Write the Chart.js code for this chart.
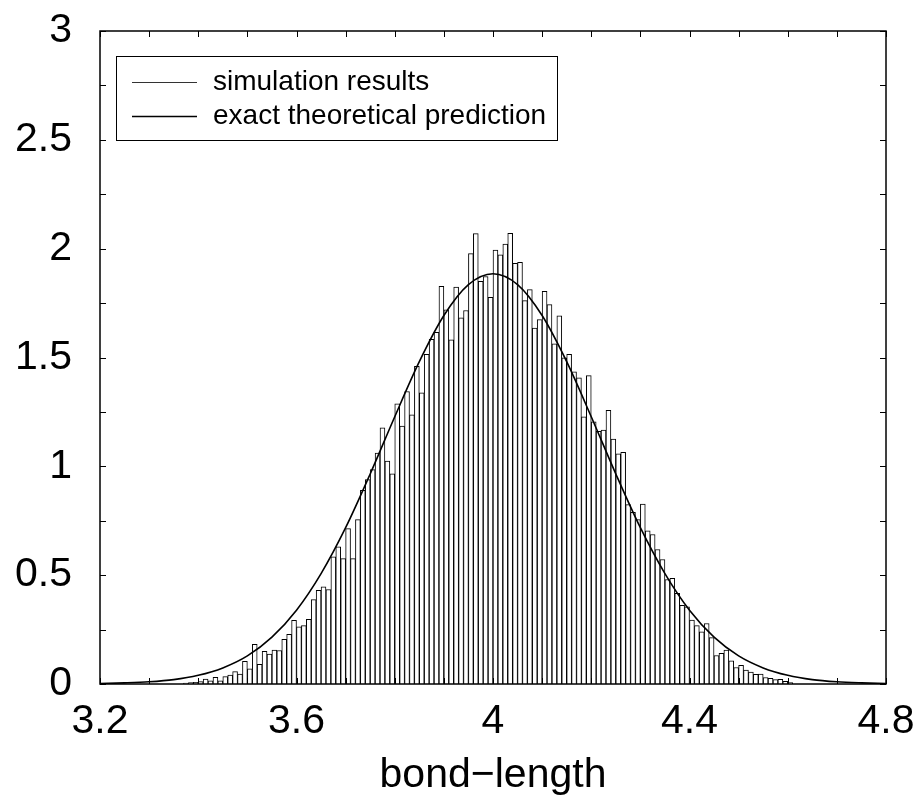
<!DOCTYPE html>
<html lang="en">
<head>
  <meta charset="UTF-8">
  <title>bond-length histogram</title>
  <style>
    body { margin: 0; background: #fff; }
    #box { width: 919px; height: 800px; }
  </style>
</head>
<body>
  <div id="box">
    <canvas id="grafico" width="919" height="800"></canvas>
  </div>

  <script src="https://cdn.jsdelivr.net/npm/chart.js"></script>

  <script>
    // histogram: bins of width 0.01 starting at 3.37
    const binStart = 3.37;
    const binWidth = 0.01;
    const counts = [
      0.004, 0.006, 0.008, 0.011, 0.023, 0.015, 0.031, 0.015, 0.034, 0.041,
      0.057, 0.046, 0.104, 0.070, 0.182, 0.090, 0.150, 0.138, 0.156, 0.154,
      0.205, 0.228, 0.292, 0.263, 0.268, 0.297, 0.388, 0.430, 0.446, 0.434,
      0.584, 0.630, 0.576, 0.714, 0.576, 0.755, 0.890, 0.939, 0.985, 1.061,
      1.177, 1.024, 0.966, 1.287, 1.185, 1.344, 1.237, 1.460, 1.338, 1.514,
      1.583, 1.616, 1.827, 1.719, 1.581, 1.823, 1.682, 1.716, 1.977, 2.069,
      1.850, 1.872, 1.777, 1.994, 1.972, 2.021, 2.070, 1.933, 1.937, 1.761,
      1.812, 1.635, 1.674, 1.804, 1.743, 1.563, 1.691, 1.499, 1.514, 1.434,
      1.407, 1.228, 1.417, 1.205, 1.161, 1.167, 1.257, 1.125, 1.057, 1.064,
      0.824, 0.789, 0.755, 0.827, 0.704, 0.687, 0.618, 0.572, 0.480, 0.485,
      0.416, 0.361, 0.355, 0.294, 0.268, 0.240, 0.278, 0.213, 0.131, 0.141,
      0.156, 0.106, 0.076, 0.086, 0.064, 0.055, 0.044, 0.046, 0.030, 0.026,
      0.020, 0.022, 0.012, 0.006
    ];

    // theoretical curve
    const curveX = [
      3.20, 3.25, 3.30, 3.35, 3.40, 3.45, 3.50, 3.55, 3.60, 3.65, 3.70,
      3.75, 3.80, 3.85, 3.90, 3.95, 4.00, 4.05, 4.10, 4.15, 4.20, 4.25,
      4.30, 4.35, 4.40, 4.45, 4.50, 4.55, 4.60, 4.65, 4.70, 4.75, 4.80
    ];
    const curveY = [
      0.002, 0.005, 0.010, 0.020, 0.040, 0.074, 0.129, 0.215, 0.339, 0.507, 0.718,
      0.965, 1.228, 1.481, 1.693, 1.835, 1.885, 1.835, 1.693, 1.481, 1.228, 0.965,
      0.718, 0.507, 0.339, 0.215, 0.129, 0.074, 0.040, 0.020, 0.010, 0.005, 0.002
    ];

    const labels = ["simulation results", "exact theoretical prediction"];
    const xTitle = "bond\u2212length";

    const fuente = "'Liberation Sans', Arial, sans-serif";

    const barras = counts.map((c, i) => ({ x: binStart + (i + 0.5) * binWidth, y: c }));
    const curva = curveX.map((v, i) => ({ x: v, y: curveY[i] }));

    // frame with inward ticks + boxed legend
    const marco = {
      id: "marco",
      afterDraw(chart) {
        const { ctx, chartArea: a, scales } = chart;
        const sx = scales.x, sy = scales.y;
        ctx.save();
        ctx.strokeStyle = "#000";
        ctx.lineWidth = 1;
        ctx.beginPath();
        sx.ticks.forEach(t => {
          const px = Math.round(sx.getPixelForValue(t.value)) + 0.5;
          ctx.moveTo(px, a.bottom); ctx.lineTo(px, a.bottom - 6);
          ctx.moveTo(px, a.top); ctx.lineTo(px, a.top + 6);
        });
        sy.ticks.forEach(t => {
          const py = Math.round(sy.getPixelForValue(t.value)) + 0.5;
          ctx.moveTo(a.left, py); ctx.lineTo(a.left + 6, py);
          ctx.moveTo(a.right, py); ctx.lineTo(a.right - 6, py);
        });
        ctx.stroke();
        ctx.lineWidth = 1.5;
        ctx.strokeRect(a.left, a.top, a.right - a.left, a.bottom - a.top);

        // legend box
        const lx = a.left + 16, ly = a.top + 25;
        ctx.fillStyle = "#fff";
        ctx.fillRect(lx, ly, 441, 84);
        ctx.lineWidth = 1;
        ctx.strokeRect(lx + 0.5, ly + 0.5, 441, 84);
        ctx.font = "28px " + fuente;
        ctx.textBaseline = "middle";
        ctx.fillStyle = "#000";
        labels.forEach((txt, i) => {
          const yy = ly + 26 + i * 34;
          ctx.beginPath();
          ctx.strokeStyle = i === 0 ? "#333" : "#000";
          ctx.lineWidth = i === 0 ? 1 : 1.3;
          ctx.moveTo(lx + 16, yy + 0.5);
          ctx.lineTo(lx + 81, yy + 0.5);
          ctx.stroke();
          ctx.fillText(txt, lx + 97, yy);
        });
        ctx.restore();
      }
    };

    const lienzo = document.getElementById("grafico");
    new Chart(lienzo, {
      type: "bar",
      data: {
        datasets: [
          {
            type: "line",
            label: labels[1],
            data: curva,
            borderColor: "#000",
            borderWidth: 1.6,
            pointRadius: 0,
            fill: false,
            cubicInterpolationMode: "monotone",
            order: 0
          },
          {
            label: labels[0],
            data: barras,
            backgroundColor: "#fff",
            borderColor: "#000",
            borderWidth: 1,
            barPercentage: 1,
            categoryPercentage: 1,
            order: 1
          }
        ]
      },
      options: {
        responsive: false,
        animation: false,
        layout: { padding: { top: 31, right: 33, left: 0, bottom: 0 } },
        plugins: {
          legend: { display: false },
          tooltip: { enabled: false }
        },
        scales: {
          x: {
            type: "linear",
            offset: false,
            min: 3.2,
            max: 4.8,
            afterFit: s => {
              s.height = 116;
              s.paddingLeft = 0;
              s.paddingRight = 0;
            },
            grid: { display: false, drawTicks: false },
            border: { display: false },
            ticks: {
              stepSize: 0.1,
              autoSkip: false,
              maxRotation: 0,
              padding: 13,
              color: "#000",
              font: { family: fuente, size: 41 },
              callback: v => (Math.round(v * 10) % 4 === 0 ? String(Math.round(v * 10) / 10) : "")
            },
            title: {
              display: true,
              text: xTitle,
              color: "#000",
              font: { family: fuente, size: 41 },
              padding: { top: 0, bottom: 0 }
            }
          },
          y: {
            min: 0,
            max: 3,
            afterFit: s => {
              s.width = 100;
              s.paddingTop = 0;
              s.paddingBottom = 0;
            },
            grid: { display: false, drawTicks: false },
            border: { display: false },
            ticks: {
              stepSize: 0.25,
              padding: 28,
              color: "#000",
              font: { family: fuente, size: 41 },
              callback: v => (Math.round(v * 4) % 2 === 0 ? String(v) : "")
            }
          }
        }
      },
      plugins: [marco]
    });
  </script>
</body>
</html>
